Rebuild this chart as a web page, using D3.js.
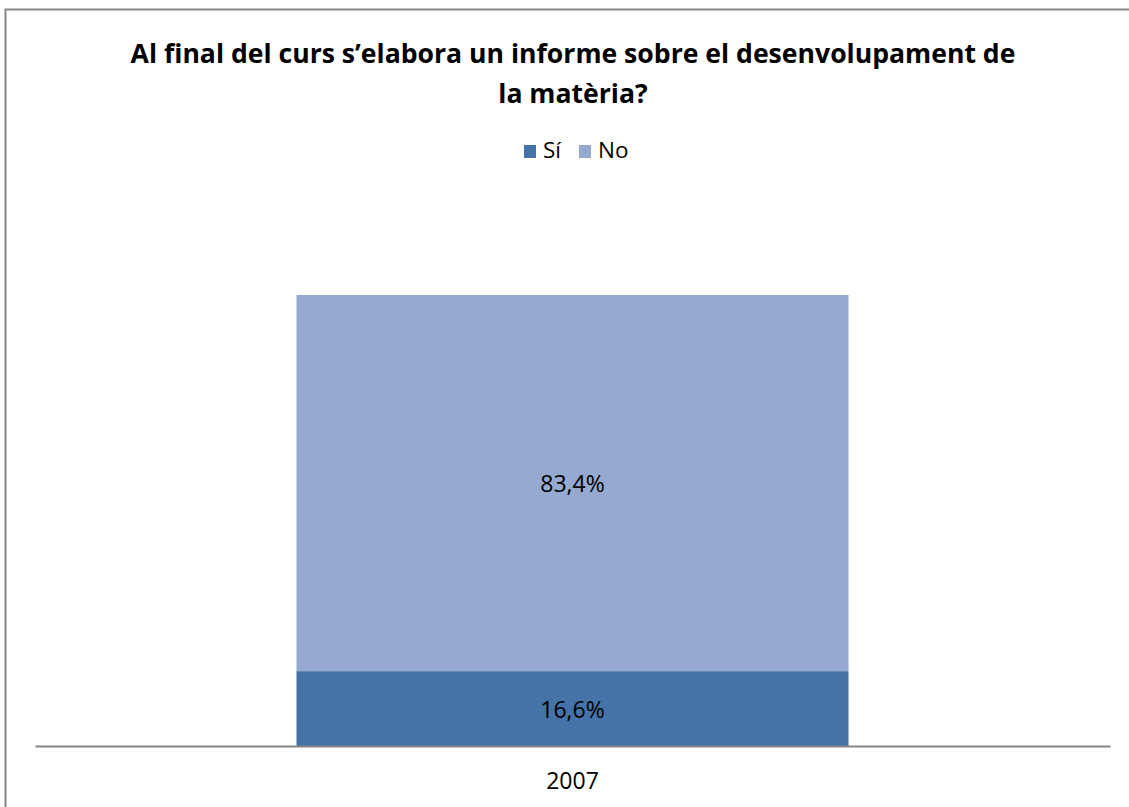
<!DOCTYPE html>
<html>
<head>
<meta charset="utf-8">
<script src="https://cdn.jsdelivr.net/npm/d3@7"></script>
<style>
  body { margin: 0; background: #fff; }
  svg { display: block; font-family: "Open Sans", "Liberation Sans", sans-serif; }
</style>
</head>
<body>
<div id="container"></div>
<script>
// data
var categories = ["2007"];
var seriesNames = ["Sí", "No"];
var siValues = [16.6];
var noValues = [83.4];
var colors = ["#4572a7", "#95a9d1"];
var titleLines = ["Al final del curs s\u2019elabora un informe sobre el desenvolupament de", "la matèria?"];

var width = 1129, height = 807;

var svg = d3.select("#container").append("svg")
    .attr("width", width)
    .attr("height", height);

// chart frame
svg.append("rect")
    .attr("x", 5.5).attr("y", 9.5)
    .attr("width", width + 10).attr("height", height + 10)
    .attr("fill", "#fff")
    .attr("stroke", "#868686")
    .attr("stroke-width", 2);

// title
svg.selectAll("text.title")
    .data(titleLines)
    .enter().append("text")
    .attr("class", "title")
    .attr("x", 573)
    .attr("y", function(d, i) { return 63 + i * 40 })
    .attr("text-anchor", "middle")
    .attr("font-weight", "bold")
    .attr("font-size", 26.6)
    .attr("fill", "#000")
    .text(function(d) { return d });

// legend
var legend = svg.append("g").attr("transform", "translate(524,145)");
var legX = [0, 55];
seriesNames.forEach(function(name, i) {
    legend.append("rect")
        .attr("x", legX[i]).attr("y", 0)
        .attr("width", 12).attr("height", 13)
        .attr("fill", colors[i]);
    legend.append("text")
        .attr("x", legX[i] + 19).attr("y", 13)
        .attr("font-size", 22.5)
        .attr("fill", "#000")
        .text(name);
});

// scales
var x = d3.scaleBand()
    .domain(categories)
    .range([35, 1110])
    .paddingInner(0)
    .paddingOuter(0.4737);

var y = d3.scaleLinear()
    .domain([0, 100])
    .range([746, 295]);

var rows = categories.map(function(c, i) {
    return { cat: c, "Sí": siValues[i], "No": noValues[i] };
});
var stack = d3.stack().keys(seriesNames)(rows);

var layers = svg.selectAll("g.layer")
    .data(stack)
    .enter().append("g")
    .attr("class", "layer")
    .attr("fill", function(d, i) { return colors[i] });

layers.selectAll("rect")
    .data(function(d) { return d })
    .enter().append("rect")
    .attr("x", function(d) { return x(d.data.cat) })
    .attr("width", x.bandwidth())
    .attr("y", function(d) { return y(d[1]) })
    .attr("height", function(d) { return y(d[0]) - y(d[1]) });

// data labels
var fmt = function(v) { return v.toFixed(1).replace(".", ",") + "%" };
layers.selectAll("text")
    .data(function(d) { return d })
    .enter().append("text")
    .attr("x", function(d) { return x(d.data.cat) + x.bandwidth() / 2 })
    .attr("y", function(d) { return (y(d[0]) + y(d[1])) / 2 + 9 })
    .attr("text-anchor", "middle")
    .attr("font-size", 23)
    .attr("fill", "#000")
    .text(function(d) { return fmt(d[1] - d[0]) });

// x axis
var xAxis = svg.append("g")
    .attr("transform", "translate(0,746)")
    .call(d3.axisBottom(x).tickSize(0).tickPadding(27));
xAxis.select(".domain").attr("stroke", "#868686").attr("stroke-width", 2);
xAxis.selectAll("text")
    .attr("font-size", 23)
    .attr("font-family", "Open Sans, Liberation Sans, sans-serif")
    .attr("fill", "#000");
</script>
</body>
</html>
